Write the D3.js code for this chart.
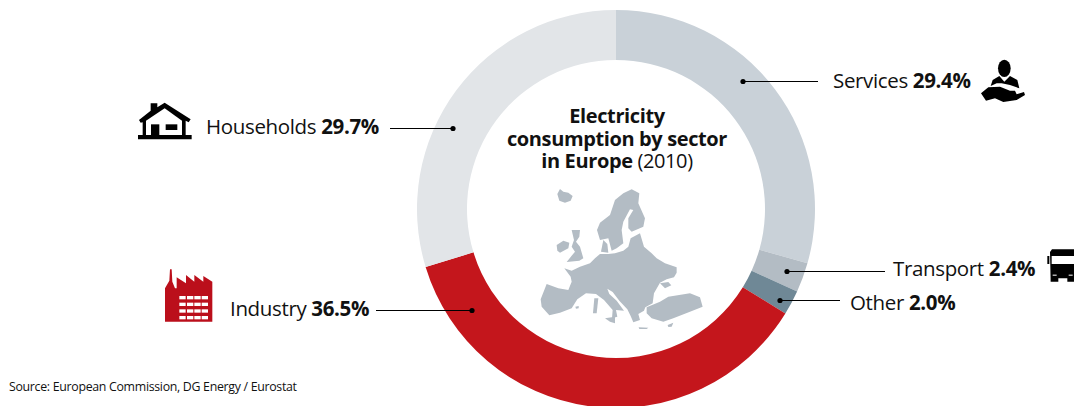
<!DOCTYPE html>
<html>
<head>
<meta charset="utf-8">
<script src="https://cdn.jsdelivr.net/npm/d3@7/dist/d3.min.js"></script>
<style>
  html, body { margin: 0; padding: 0; background: #fff; overflow: hidden; }
  text { font-family: "Open Sans", "Noto Sans", sans-serif; fill: #111; }
  .label { font-size: 20.5px; letter-spacing: -0.35px; }
  .title { font-size: 20px; letter-spacing: -0.38px; text-anchor: middle; }
  .b { font-weight: 700; }
</style>
</head>
<body>
<svg id="chart" width="1074" height="406"></svg>
<script>
const sectors = ["Services", "Transport", "Other", "Industry", "Households"];
const shares = [29.4, 2.4, 2.0, 36.5, 29.7];
const colors = ["#c9d1d8", "#b3bcc4", "#6f8896", "#c4161c", "#e2e5e8"];

const W = 1074, H = 406;
const cx = 616, cy = 209, R = 199, r = 149;

const svg = d3.select("#chart");
const line = d3.line().curve(d3.curveLinearClosed);

// donut
const pie = d3.pie().sort(null).value((d) => d.value);
const arc = d3.arc().innerRadius(r).outerRadius(R);
const rows = sectors.map((s, i) => ({ sector: s, value: shares[i], color: colors[i] }));

svg.append("g")
  .attr("transform", `translate(${cx},${cy})`)
  .selectAll("path")
  .data(pie(rows))
  .join("path")
  .attr("d", arc)
  .attr("fill", (d) => d.data.color);

// callouts: sector index, text start, leader line, dot end
const callouts = [
  { i: 0, tx: 833, ty: 88, x1: 743, x2: 818, y: 81, dot: 743 },
  { i: 1, tx: 893, ty: 276, x1: 787, x2: 885, y: 271, dot: 787 },
  { i: 2, tx: 850, ty: 310, x1: 780, x2: 840, y: 300, dot: 780 },
  { i: 3, tx: 230, ty: 316, x1: 376, x2: 472, y: 310, dot: 472 },
  { i: 4, tx: 206, ty: 134, x1: 390, x2: 453, y: 128, dot: 453 },
];

callouts.forEach((c) => {
  svg.append("line")
    .attr("x1", c.x1).attr("x2", c.x2)
    .attr("y1", c.y + 0.5).attr("y2", c.y + 0.5)
    .attr("stroke", "#000").attr("stroke-width", 1);
  svg.append("circle")
    .attr("cx", c.dot).attr("cy", c.y + 0.5).attr("r", 2.6)
    .attr("fill", "#000");
  const t = svg.append("text").attr("class", "label").attr("x", c.tx).attr("y", c.ty);
  t.append("tspan").text(sectors[c.i] + " ");
  t.append("tspan").attr("class", "b").text(shares[c.i].toFixed(1) + "%");
});

// centre title
const title = svg.append("g");
title.append("text").attr("class", "title b").attr("x", 617).attr("y", 123).text("Electricity");
title.append("text").attr("class", "title b").attr("x", 617).attr("y", 145.5).text("consumption by sector");
const t3 = title.append("text").attr("class", "title").attr("x", 617).attr("y", 168);
t3.append("tspan").attr("class", "b").text("in Europe");
t3.append("tspan").text(" (2010)");

// source
svg.append("text")
  .attr("x", 9).attr("y", 391)
  .attr("font-size", 12.35)
  .attr("letter-spacing", -0.3)
  .text("Source: European Commission, DG Energy / Eurostat");

// map of Europe, traced outline
const mapShapes = [
  [[172,312],[180,297],[190,305],[205,308],[218,318],[212,332],[195,338],[178,332]],
  [[215,420],[240,420],[238,440],[228,455],[240,470],[250,505],[238,512],[200,516],[215,497],[225,485],[215,470],[222,450]],
  [[170,465],[190,452],[208,458],[205,475],[180,488],[172,482]],
  [[291,420],[300,398],[330,375],[345,330],[370,310],[395,298],[418,310],[415,340],[435,385],[430,410],[395,425],[385,415],[385,385],[400,360],[390,358],[370,395],[365,420],[370,460],[350,475],[335,482],[325,445],[300,450]],
  [[303,485],[310,450],[322,462],[325,488]],
  [[193,535],[215,542],[240,530],[270,520],[285,505],[300,492],[325,492],[345,490],[370,482],[385,470],[392,445],[420,430],[432,470],[455,490],[470,505],[495,520],[530,532],[530,548],[522,562],[500,568],[480,578],[462,610],[458,640],[436,652],[432,662],[415,672],[420,690],[400,697],[392,678],[382,658],[358,632],[338,606],[322,596],[328,612],[350,632],[372,662],[348,660],[352,680],[336,685],[338,660],[312,630],[288,612],[258,610],[232,628],[215,655],[180,668],[148,676],[125,650],[122,628],[140,582],[175,595],[205,600],[215,575],[212,560]],
  [[480,580],[505,576],[514,586],[495,595]],
  [[283,625],[295,625],[290,670],[279,670]],
  [[315,685],[345,680],[345,700],[330,695]],
  [[226,650],[236,648],[236,655],[228,656]],
  [[416,712],[445,713],[440,717],[418,717]],
  [[440,652],[480,635],[505,620],[570,610],[600,622],[608,650],[570,665],[520,685],[490,695],[455,685],[440,670]],
  [[503,705],[520,698],[515,710],[505,711]],
];
svg.append("g")
  .attr("transform", "translate(500,90) scale(0.3333)")
  .selectAll("path")
  .data(mapShapes)
  .join("path")
  .attr("d", line)
  .attr("fill", "#b3bcc4");

// icons
const house = svg.append("g").attr("transform", "translate(120,90) scale(0.3333)");
house.append("path").attr("fill", "#000").attr("d", line([[57,90],[92,62],[92,40],[112,40],[112,52],[134,38],[212,88],[206,97],[197,92],[197,135],[215,135],[215,148],[54,148],[54,135],[68,135],[68,97],[62,98]]));
house.append("path").attr("fill", "#fff").attr("d", line([[78,92],[134,55],[186,92],[186,135],[78,135]]));
house.append("path").attr("fill", "#000").attr("d", line([[93,103],[118,103],[118,135],[93,135]]));
house.append("path").attr("fill", "#000").attr("d", line([[137,103],[172,103],[172,120],[137,120]]));

const factory = svg.append("g").attr("transform", "translate(150,260) scale(0.3333)");
factory.append("path").attr("fill", "#bb0f1b").attr("d", line([[45,85],[58,62],[60,28],[65,28],[67,65],[75,85],[80,85],[80,52],[108,70],[108,45],[133,65],[133,45],[160,65],[160,48],[187,65],[187,185],[45,185]]));
[108, 128, 148, 168].forEach((wy) => {
  [88, 111, 133, 155].forEach((wx) => {
    factory.append("rect").attr("x", wx).attr("y", wy).attr("width", 19).attr("height", 10).attr("fill", "#fff");
  });
});

const person = svg.append("g").attr("transform", "translate(960,50) scale(0.3333)");
person.append("ellipse").attr("cx", 133).attr("cy", 55).attr("rx", 19).attr("ry", 26).attr("fill", "#000");
person.append("path").attr("fill", "#000").attr("d", line([[92,108],[98,90],[118,78],[133,95],[150,78],[172,90],[178,115],[150,105],[125,100],[110,100]]));
person.append("path").attr("fill", "#000").attr("d", line([[63,130],[85,112],[120,110],[150,122],[165,122],[170,133],[192,126],[195,135],[170,150],[130,156],[105,145],[78,152]]));

const bus = svg.append("g").attr("transform", "translate(1030,240) scale(0.3333)");
bus.append("path").attr("fill", "#000").attr("d", line([[60,36],[66,28],[132,28],[132,125],[112,125],[112,115],[85,115],[85,125],[62,125]]));
bus.append("rect").attr("x", 65).attr("y", 48).attr("width", 67).attr("height", 24).attr("fill", "#fff");
bus.append("rect").attr("x", 52).attr("y", 48).attr("width", 6).attr("height", 24).attr("fill", "#000");
bus.append("rect").attr("x", 68).attr("y", 104).attr("width", 12).attr("height", 3).attr("fill", "#fff");
bus.append("rect").attr("x", 116).attr("y", 104).attr("width", 12).attr("height", 3).attr("fill", "#fff");
</script>
</body>
</html>
